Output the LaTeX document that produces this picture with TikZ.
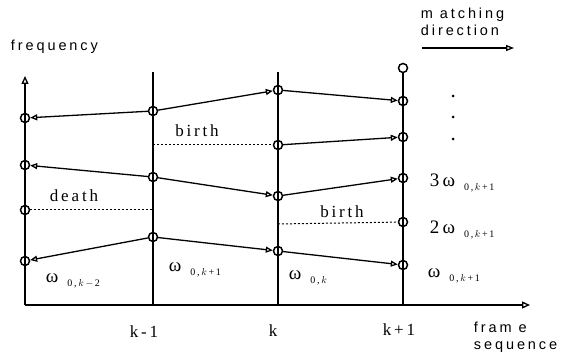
\documentclass[tikz,border=0pt]{standalone}
\usepackage{fontspec}
\setmainfont{Liberation Serif}
\newfontfamily\spaced[LetterSpace=20]{Liberation Sans}
\usetikzlibrary{calc, positioning}
\usetikzlibrary{arrows.meta}
\newcommand{\sbs}[1]{\hspace{9pt}\raisebox{-4pt}{\fontsize{10}{12}\selectfont #1}}

\begin{document}
\begin{tikzpicture}[x=1pt,y=-1pt, line width=1.3pt,
  pk/.style={circle, draw, line width=1.5pt, inner sep=0pt, minimum size=9pt},
  trk/.style={line width=1.3pt, -{Triangle[open, length=7pt, width=6pt]}},
  brn/.style={line width=1pt, dash pattern=on 2pt off 2pt},
  lbl/.style={font=\spaced\fontsize{14.5}{17}\selectfont, align=left},
  txt/.style={font=\fontsize{17}{19}\selectfont},
  omg/.style={font=\fontsize{19}{21}\selectfont}]
\useasboundingbox (0,0) rectangle (581,358);
\def\xa{25}
\def\xb{153}
\def\xc{278}
\def\xd{403}
\def\ybase{305}
% axes and frame lines
\coordinate (O) at (\xa,\ybase);
\coordinate (Ytop) at (\xa,76);
\coordinate (Xend) at (530,\ybase);
\draw[-{Triangle[open, length=8pt, width=7pt]}] (O) -- (Ytop);
\draw[-{Triangle[open, length=8pt, width=7pt]}] (O) -- (Xend);
\draw (\xb,72) -- (\xb,\ybase);
\draw (\xc,72) -- (\xc,\ybase);
% peaks
\node[pk] (a1) at (\xa,118) {};
\node[pk] (a2) at (\xa,165) {};
\node[pk] (a3) at (\xa,210) {};
\node[pk] (a4) at (\xa,261) {};
\node[pk] (b1) at (\xb,111) {};
\node[pk] (b2) at (\xb,177) {};
\node[pk] (b3) at (\xb,237) {};
\node[pk] (c1) at (\xc,90) {};
\node[pk] (c2) at (\xc,145) {};
\node[pk] (c3) at (\xc,196) {};
\node[pk] (c4) at (\xc,251) {};
\node[pk] (d0) at (\xd,68) {};
\node[pk] (d1) at (\xd,101) {};
\node[pk] (d2) at (\xd,137) {};
\node[pk] (d3) at (\xd,178) {};
\node[pk] (d4) at (\xd,222) {};
\node[pk] (d5) at (\xd,265) {};
\draw (d0) -- (\xd,\ybase);
% tracks
\draw[trk] (b1) -- (a1);
\draw[trk] (b1) -- (c1);
\draw[trk] (c1) -- (d1);
\draw[trk] (c2) -- (d2);
\draw[trk] (b2) -- (a2);
\draw[trk] (b2) -- (c3);
\draw[trk] (c3) -- (d3);
\draw[trk] (b3) -- (a4);
\draw[trk] (b3) -- (c4);
\draw[trk] (c4) -- (d5);
% births and deaths
\draw[brn] (\xb,145) -- (c2);
\draw[brn] (a3) -- (\xb,210);
\draw[brn] (\xc,224) -- (d4);
\node[txt] (bth1) at (197,131) {b\,i\,r\,t\,h};
\node[txt] (dth) at (74,196) {d\,e\,a\,t\,h};
\node[txt] (bth2) at (342,212) {b\,i\,r\,t\,h};
% continuation dots
\foreach \yy in {96,117,139}
  \fill (453,\yy) circle (1.5);
% frequency labels
\node[omg, anchor=west] (w3) at (426,183) {3\,ω\sbs{0\,,\,$k$\,+\,1}};
\node[omg, anchor=west] (w2) at (426,230) {2\,ω\sbs{0\,,\,$k$\,+\,1}};
\node[omg, anchor=west] (w1) at (424,276) {ω\sbs{0\,,\,$k$\,+\,1}};
\node[omg, anchor=west] (wa) at (42,281) {ω\sbs{0\,,\,$k$\,$-$\,2}};
\node[omg, anchor=west] (wb) at (165,270) {ω\sbs{0\,,\,$k$\,+\,1}};
\node[omg, anchor=west] (wc) at (285,278) {ω\sbs{0\,,\,$k$}};
% frame indices
\node[txt] (kb) at (\xb-9,332) {k\,-\,1};
\node[txt] (kc) at (\xc-5,331) {k};
\node[txt] (kd) at (\xd-4,330) {k\,+\,1};
% axis titles
\node[lbl, anchor=west] (freq) at (7,47) {frequency};
\node[lbl, anchor=north west] (fseq) at (470,318) {fram e\\sequence};
\node[lbl, anchor=north west] (mdir) at (417,4) {m atching\\direction};
\coordinate (m1) at (422,48);
\coordinate (m2) at (514,48);
\draw[-{Triangle[open, length=8pt, width=6pt]}] (m1) -- (m2);
\end{tikzpicture}
\end{document}
